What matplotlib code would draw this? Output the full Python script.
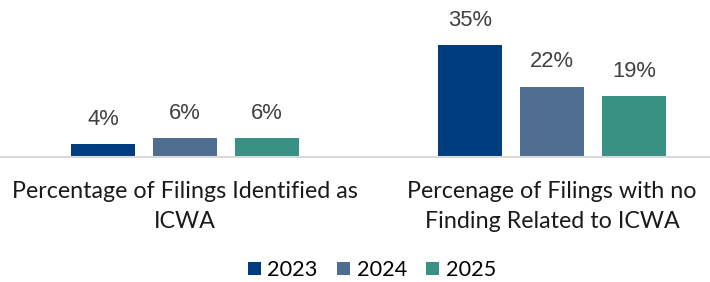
import matplotlib
matplotlib.use('Agg')
import matplotlib.pyplot as plt
import matplotlib.transforms as mtransforms
from matplotlib.patches import Patch
import numpy as np

# data
categories = [['Percentage of Filings Identified as', 'ICWA'],
              ['Percenage of Filings with no', 'Finding Related to ICWA']]
years = ['2023', '2024', '2025']
vals_2023 = [4, 35]
vals_2024 = [6, 22]
vals_2025 = [6, 19]
colors = ['#003C80', '#4F6C91', '#399183']

series = [vals_2023, vals_2024, vals_2025]
cat_font = ['Lato', 'DejaVu Sans']
W, H = 710, 282

fig = plt.figure(figsize=(W / 100, H / 100), dpi=100)
renderer = fig.canvas.get_renderer()


def fit_size(text, family, target_px, base=16):
    # font size so that text is target_px wide
    t = fig.text(0, 0, text, fontsize=base, family=family)
    w = t.get_window_extent(renderer).width
    t.remove()
    return base * target_px / w


cat_size = fit_size(categories[0][0], cat_font, 347)
leg_size = fit_size('2023', cat_font, 50)
lab_size = fit_size('35%', 'Liberation Sans', 44)

ax = fig.add_axes([0, (H - 157) / H, 1, 128 / H])

x = np.arange(len(categories))
step = 82 / 367
width = 64 / 367

for i, vals in enumerate(series):
    pos = x + (i - 1) * step
    bars = ax.bar(pos, vals, width, color=colors[i], edgecolor='none')
    for b, v in zip(bars, vals):
        ax.text(b.get_x() + b.get_width() / 2, v + 6, f'{v}%',
                ha='center', va='baseline', fontsize=lab_size, color='#404040',
                family='Liberation Sans')

ax.set_xlim(-185 / 367, 525 / 367)
ax.set_ylim(0, 40)
ax.set_yticks([])
ax.set_xticks([])
for s in ['top', 'right', 'left']:
    ax.spines[s].set_visible(False)
ax.spines['bottom'].set_color('#D9D9D9')
ax.spines['bottom'].set_linewidth(1.5)
ax.patch.set_alpha(0)

# category labels, one line at a time
trans = mtransforms.blended_transform_factory(ax.transData, fig.transFigure)
for xi, lines in zip(x, categories):
    for j, line in enumerate(lines):
        ax.text(xi, 1 - (198 + 29.5 * j) / H, line, transform=trans,
                ha='center', va='baseline', fontsize=cat_size,
                family=cat_font, color='#1a1a1a')

handles = [Patch(facecolor=c, edgecolor='none') for c in colors]
fig.legend(handles, years, loc='center', bbox_to_anchor=(372 / W, 1 - 270 / H),
           ncol=3, frameon=False, handlelength=0.6, handleheight=0.6,
           handletextpad=0.3, columnspacing=0.9, borderpad=0,
           prop={'family': cat_font, 'size': leg_size})

fig.savefig('out.png', dpi=100)
